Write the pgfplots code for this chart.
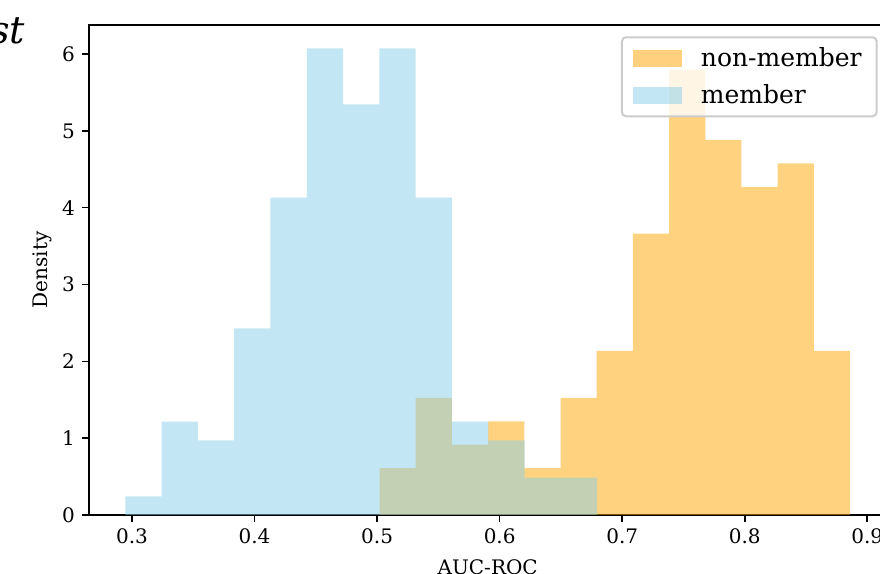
\documentclass[border=0pt]{standalone}
\usepackage{fontspec}
\setmainfont{DejaVu Serif}
\usepackage{pgfplots}
\pgfplotsset{compat=1.18}
\definecolor{nonmem}{HTML}{FFA500}
\definecolor{mem}{HTML}{87CEEB}
\begin{document}
\begin{tikzpicture}
% the reference is a crop of a larger figure: keep the same window
\path[use as bounding box, clip] (0,0) rectangle (440pt,287pt);
\node[anchor=base east, font=\fontsize{19}{22}\selectfont\itshape, inner sep=0pt] at (12.8pt,265pt) {st};
\begin{axis}[at={(44.5pt,29.5pt)}, anchor=south west,
  scale only axis, width=398.7pt, height=245pt,
  xmin=0.2649, xmax=0.9156, ymin=0, ymax=6.378,
  xtick={0.3,0.4,0.5,0.6,0.7,0.8,0.9},
  xticklabels={0.3,0.4,0.5,0.6,0.7,0.8,0.9},
  ytick={0,1,2,3,4,5,6},
  tick align=outside, tick pos=left, major tick length=3.5pt,
  axis line style={line width=0.8pt},
  every tick/.style={black, line width=0.8pt},
  tick label style={font=\fontsize{10}{12}\selectfont, /pgf/number format/assume math mode=true},
  xlabel={AUC-ROC}, ylabel={Density},
  label style={font=\fontsize{10}{12}\selectfont},
  xlabel style={at={(axis description cs:0.5,0)}, anchor=base, yshift=-30pt},
  ylabel style={at={(axis description cs:-0.0515,0.5)}, anchor=base},
  legend style={at={(axis description cs:0.989,0.977)}, anchor=north east,
    draw=black!20, line width=1pt, rounded corners=2pt, fill=white, fill opacity=0.8,
    draw opacity=1, text opacity=1, font=\fontsize{12.5}{14}\selectfont,
    inner xsep=5.5pt, inner ysep=3pt, row sep=3.5pt, cells={anchor=west},
    /tikz/every odd column/.append style={column sep=7.5pt}},
]
\addplot[ybar interval, fill=nonmem, fill opacity=0.5, draw=none,
  legend image code/.code={\fill[nonmem, fill opacity=0.5, sharp corners] (0pt,-4.25pt) rectangle (24.5pt,4.25pt);}]
  coordinates {(0.5020,0.610) (0.5315,1.526) (0.5611,0.915) (0.5906,1.220) (0.6201,0.610)
    (0.6497,1.526) (0.6792,2.136) (0.7087,3.661) (0.7382,5.797) (0.7678,4.882)
    (0.7973,4.271) (0.8268,4.577) (0.8564,2.136) (0.8859,2.136)};
\addlegendentry{non-member}
\addplot[ybar interval, fill=mem, fill opacity=0.5, draw=none,
  legend image code/.code={\fill[mem, fill opacity=0.5, sharp corners] (0pt,-4.25pt) rectangle (24.5pt,4.25pt);}]
  coordinates {(0.2945,0.243) (0.3241,1.215) (0.3537,0.972) (0.3833,2.429) (0.4130,4.130)
    (0.4426,6.073) (0.4722,5.344) (0.5018,6.073) (0.5314,4.130) (0.5610,1.215)
    (0.5907,0.972) (0.6203,0.486) (0.6499,0.486) (0.6795,0.486)};
\addlegendentry{member}
\end{axis}
\end{tikzpicture}
\end{document}
